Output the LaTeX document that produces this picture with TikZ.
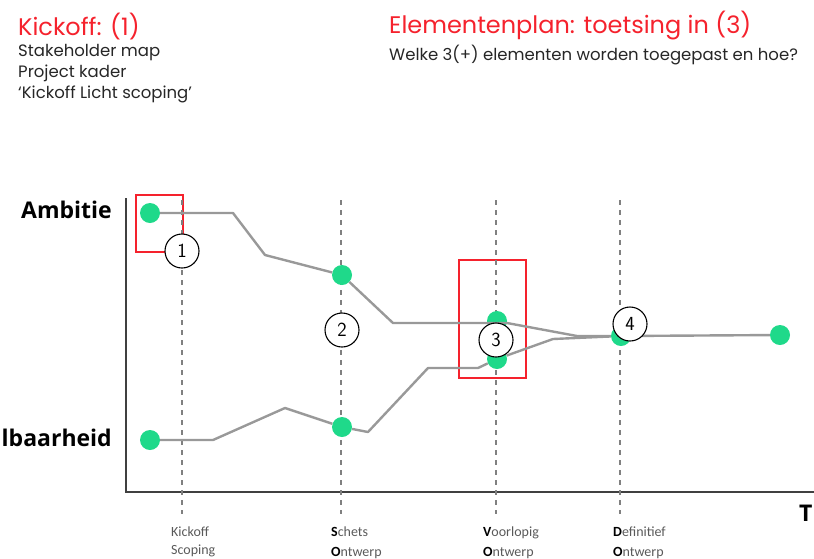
\documentclass[tikz,border=0pt]{standalone}
\usepackage{fontspec}
\setmainfont{Poppins}
\newfontfamily\sidefont{Open Sans}
\newfontfamily\stagefont{Carlito}
\usetikzlibrary{positioning}
\definecolor{kickred}{HTML}{F5222D}
\definecolor{dotgreen}{HTML}{1FD98A}
\definecolor{routegray}{HTML}{999999}
\definecolor{gategray}{HTML}{808080}
\definecolor{stagegray}{HTML}{5A5A5A}

\tikzset{
  dot/.style={circle,fill=dotgreen,inner sep=0pt,minimum size=20pt},
  phase/.style={circle,draw=black,line width=1.1pt,fill=white,inner sep=0pt,
    minimum size=34pt,font=\sffamily\fontsize{20}{20}\selectfont},
  route/.style={routegray,line width=2.4pt,line join=round},
  gate/.style={gategray,line width=2.5pt,dash pattern=on 5pt off 5pt},
  redbox/.style={draw=kickred,line width=1.6pt},
  headline/.style={anchor=base west,inner xsep=0pt,text=kickred,font=\fontsize{24}{24}\selectfont},
  subline/.style={anchor=base west,inner xsep=0pt,text=black!85,font=\fontsize{16.5}{16.5}\selectfont},
  sidelabel/.style={anchor=base east,inner xsep=0pt,font=\sidefont\bfseries\fontsize{23}{23}\selectfont},
  stagelabel/.style={anchor=base west,inner xsep=0pt,text=stagegray,font=\stagefont\fontsize{14}{14}\selectfont}
}

\begin{document}
\begin{tikzpicture}[x=1pt,y=-1pt]
    \useasboundingbox (0,0) rectangle (814,558);

    % texts on top
    \node[headline] (kickoff) at (18,35) {Kickoff: (1)};
    \node[subline] (stake) at (18,56) {Stakeholder map};
    \node[subline] (kader) at (18,77) {Project kader};
    \node[subline] (licht) at (18,98) {‘Kickoff Licht scoping’};
    \node[headline] (elementen) at (389,33) {Elementenplan: toetsing in (3)};
    \node[subline] (welke) at (389,60) {Welke 3(+) elementen worden toegepast en hoe?};

    % axes
    \coordinate (ytop) at (126,198);
    \coordinate (origin) at (126,492);
    \coordinate (xend) at (814,492);
    \draw[black!75,line width=2pt] (ytop) -- (origin) -- (xend);
    \node[sidelabel] (ambitie) at (112,218) {Ambitie};
    \node[sidelabel] (haalbaar) at (112,446) {Haalbaarheid};
    \node[anchor=base west,inner xsep=0pt,font=\sidefont\bfseries\fontsize{23}{23}\selectfont] (tijd) at (799,521) {Tijd};

    % red boxes
    \draw[redbox] (136,195) rectangle (183,252);
    \draw[redbox] (459,260) rectangle (526,378);

    % phase gates
    \foreach \gx/\gname in {182/kick,341/schets,496/voorl,620/defin}{
        \coordinate (\gname top) at (\gx,200);
        \coordinate (\gname bot) at (\gx,514);
        \draw[gate] (\gname top) -- (\gname bot);
    }

    % dots
    \node[dot] (a1) at (150,213) {};
    \node[dot] (a2) at (342,275) {};
    \node[dot] (a3) at (497,321) {};
    \node[dot] (h1) at (150,440) {};
    \node[dot] (h2) at (342,427) {};
    \node[dot] (h3) at (497,359) {};
    \node[dot] (m4) at (621,336) {};
    \node[dot] (end) at (780,335) {};

    % routes
    \draw[route] (a1) -- (233,213) -- (265,255) -- (a2) -- (393,323) -- (507,323)
        -- (577,336) -- (m4) -- (end);
    \draw[route] (h1) -- (213,440) -- (285,408) -- (h2) -- (368,432) -- (428,368)
        -- (478,368) -- (h3) -- (553,339) -- (m4);

    % phase numbers
    \node[phase] (p1) at (182,251) {1};
    \node[phase] (p2) at (342,330) {2};
    \node[phase] (p3) at (496,340) {3};
    \node[phase] (p4) at (630,324) {4};

    % stage labels
    \node[stagelabel] (kick1) at (171,536) {Kickoff};
    \node[stagelabel] (kick2) at (171,554) {Scoping};
    \node[stagelabel] (schets1) at (331,536) {\textcolor{black}{\bfseries S}chets};
    \node[stagelabel] (schets2) at (331,556) {\textcolor{black}{\bfseries O}ntwerp};
    \node[stagelabel] (voorl1) at (483,536) {\textcolor{black}{\bfseries V}oorlopig};
    \node[stagelabel] (voorl2) at (483,556) {\textcolor{black}{\bfseries O}ntwerp};
    \node[stagelabel] (defin1) at (613,536) {\textcolor{black}{\bfseries D}efinitief};
    \node[stagelabel] (defin2) at (613,556) {\textcolor{black}{\bfseries O}ntwerp};
\end{tikzpicture}
\end{document}
